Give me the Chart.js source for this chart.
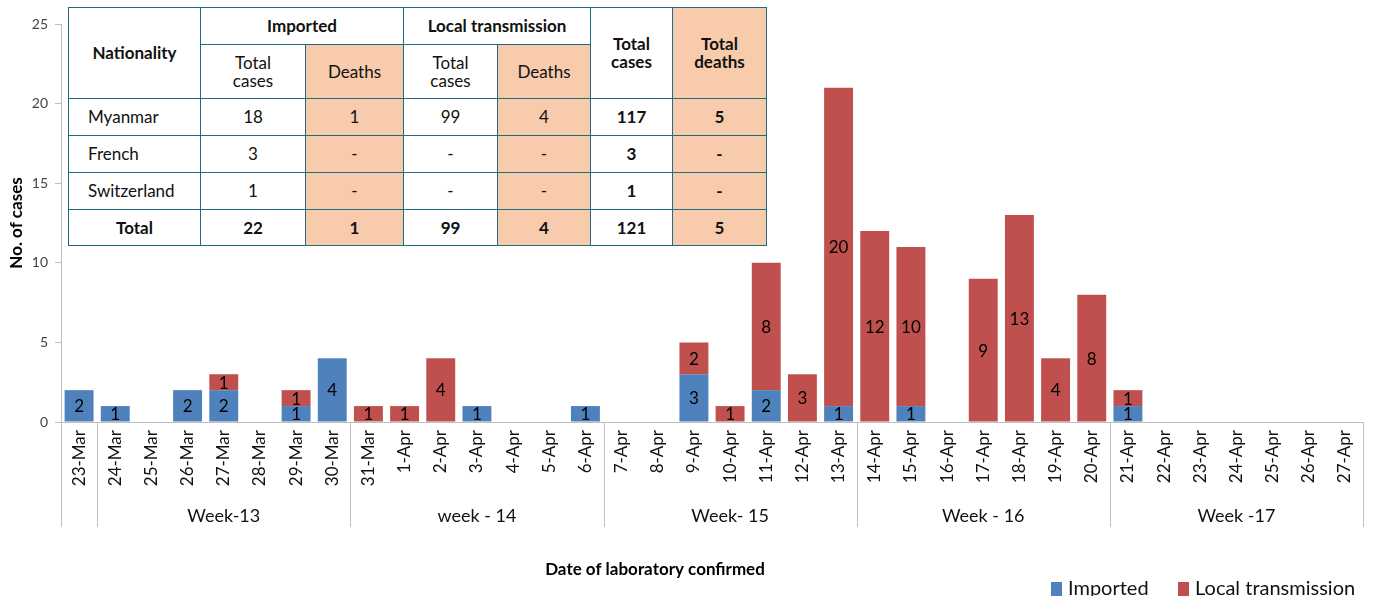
<!DOCTYPE html>
<html>
<head>
<meta charset="utf-8">
<script src="https://cdn.jsdelivr.net/npm/chart.js@4"></script>
<style>
  body { margin: 0; background: #fff; font-family: Lato, sans-serif; }
  #wrap { position: relative; width: 1375px; height: 596px; }
  #summary {
    position: absolute; left: 68px; top: 7px;
    border-collapse: collapse; table-layout: fixed;
    font-family: Lato, sans-serif; font-size: 17px; color: #111;
    background: #fff;
  }
  #summary td { border: 1.5px solid #1f6b80; text-align: center; padding: 0; line-height: 18px; }
  #summary .b { font-weight: bold; }
  #summary .p { background: #f8cbad; }
  #summary .l { text-align: left; padding-left: 19px; }
</style>
</head>
<body>
<div id="wrap">
  <canvas id="caseChart"></canvas>
  <table id="summary">
    <colgroup>
      <col style="width:132px"><col style="width:105px"><col style="width:98px">
      <col style="width:94px"><col style="width:93px"><col style="width:82px"><col style="width:94px">
    </colgroup>
    <tr style="height:37px">
      <td class="b" rowspan="2">Nationality</td>
      <td class="b" colspan="2">Imported</td>
      <td class="b" colspan="2">Local transmission</td>
      <td class="b" rowspan="2">Total<br>cases</td>
      <td class="b p" rowspan="2">Total<br>deaths</td>
    </tr>
    <tr style="height:54px">
      <td>Total<br>cases</td><td class="p">Deaths</td>
      <td>Total<br>cases</td><td class="p">Deaths</td>
    </tr>
    <tr style="height:37px">
      <td class="l">Myanmar</td><td>18</td><td class="p">1</td><td>99</td><td class="p">4</td><td class="b">117</td><td class="b p">5</td>
    </tr>
    <tr style="height:37px">
      <td class="l">French</td><td>3</td><td class="p">-</td><td>-</td><td class="p">-</td><td class="b">3</td><td class="b p">-</td>
    </tr>
    <tr style="height:37px">
      <td class="l">Switzerland</td><td>1</td><td class="p">-</td><td>-</td><td class="p">-</td><td class="b">1</td><td class="b p">-</td>
    </tr>
    <tr style="height:36px">
      <td class="b">Total</td><td class="b">22</td><td class="b p">1</td><td class="b">99</td><td class="b p">4</td><td class="b">121</td><td class="b p">5</td>
    </tr>
  </table>
</div>
<script>
const days = [
  "23-Mar", "24-Mar", "25-Mar", "26-Mar", "27-Mar", "28-Mar", "29-Mar", "30-Mar",
  "31-Mar", "1-Apr", "2-Apr", "3-Apr", "4-Apr", "5-Apr", "6-Apr",
  "7-Apr", "8-Apr", "9-Apr", "10-Apr", "11-Apr", "12-Apr", "13-Apr",
  "14-Apr", "15-Apr", "16-Apr", "17-Apr", "18-Apr", "19-Apr", "20-Apr",
  "21-Apr", "22-Apr", "23-Apr", "24-Apr", "25-Apr", "26-Apr", "27-Apr"
];
const imported = [2, 1, 0, 2, 2, 0, 1, 4, 0, 0, 0, 1, 0, 0, 1, 0, 0, 3, 0, 2, 0, 1, 0, 1, 0, 0, 0, 0, 0, 1, 0, 0, 0, 0, 0, 0];
const local = [0, 0, 0, 0, 1, 0, 1, 0, 1, 1, 4, 0, 0, 0, 0, 0, 0, 2, 1, 8, 3, 20, 12, 10, 0, 9, 13, 4, 8, 1, 0, 0, 0, 0, 0, 0];
const weekNames = ["Week-13", "week - 14", "Week- 15", "Week - 16", "Week -17"];
const weekStarts = [1, 8, 15, 22, 29, 36]; // index of first day of each week, last = end
const yTicks = [0, 5, 10, 15, 20, 25];

const grey = '#bfbfbf';

const extras = {
  id: 'extras',
  afterDatasetsDraw(chart) {
    const ctx = chart.ctx;
    ctx.save();
    ctx.font = '17px Lato';
    ctx.fillStyle = '#000';
    ctx.textAlign = 'center';
    ctx.textBaseline = 'middle';
    chart.data.datasets.forEach((ds, di) => {
      chart.getDatasetMeta(di).data.forEach((bar, i) => {
        if (!ds.data[i]) return;
        ctx.fillText(ds.data[i], bar.x, (bar.y + bar.base) / 2 + 1);
      });
    });
    ctx.restore();
  },
  afterDraw(chart) {
    const ctx = chart.ctx;
    const x = chart.scales.x;
    const area = chart.chartArea;
    const half = (x.getPixelForValue(1) - x.getPixelForValue(0)) / 2;
    const edge = i => i >= days.length ? area.right : x.getPixelForValue(i) - half;
    ctx.save();
    ctx.strokeStyle = grey;
    ctx.lineWidth = 1;
    [0].concat(weekStarts).forEach(i => {
      const px = Math.round(edge(i)) + 0.5;
      ctx.beginPath();
      ctx.moveTo(px, area.bottom);
      ctx.lineTo(px, 527);
      ctx.stroke();
    });
    ctx.font = '18px Lato';
    ctx.fillStyle = '#111';
    ctx.textAlign = 'center';
    ctx.textBaseline = 'middle';
    weekNames.forEach((w, k) => {
      ctx.fillText(w, (edge(weekStarts[k]) + edge(weekStarts[k + 1])) / 2, 516);
    });

    ctx.font = 'bold 17px Lato';
    ctx.fillStyle = '#000';
    ctx.fillText('Date of laboratory confirmed', 655, 570);

    // legend
    ctx.font = '20px Lato';
    ctx.textAlign = 'left';
    let lx = 1051;
    chart.data.datasets.forEach(ds => {
      ctx.fillStyle = ds.backgroundColor;
      ctx.fillRect(lx, 582, 11, 14);
      ctx.fillStyle = '#111';
      ctx.fillText(ds.label, lx + 17, 589);
      lx += 127;
    });
    ctx.restore();
  }
};

new Chart(document.getElementById('caseChart'), {
  type: 'bar',
  data: {
    labels: days,
    datasets: [
      { label: 'Imported', data: imported, backgroundColor: '#4f81bd' },
      { label: 'Local transmission', data: local, backgroundColor: '#c0504d' }
    ]
  },
  options: {
    responsive: true,
    maintainAspectRatio: false,
    animation: false,
    barPercentage: 0.8,
    categoryPercentage: 1,
    layout: { padding: { top: 24, right: 12, bottom: 69, left: 0 } },
    plugins: { legend: { display: false }, tooltip: { enabled: false } },
    scales: {
      x: {
        stacked: true,
        afterFit: s => { s.height = 105; },
        grid: { display: true, drawOnChartArea: false, drawTicks: false },
        border: { display: true, color: grey },
        ticks: {
          minRotation: 90, maxRotation: 90, autoSkip: false, padding: 8,
          color: '#111', font: { family: 'Lato', size: 17 }
        }
      },
      y: {
        stacked: true,
        min: 0, max: 25,
        afterFit: s => { s.width = 61; },
        afterBuildTicks: s => { s.ticks = yTicks.map(v => ({ value: v })); },
        grid: { display: true, drawOnChartArea: false, tickLength: 6, color: grey },
        border: { display: true, color: grey },
        ticks: { padding: 7, color: '#444', font: { family: 'Lato', size: 14 } },
        title: {
          display: true, text: 'No. of cases', color: '#000',
          font: { family: 'Lato', size: 17, weight: 'bold' },
          padding: { top: 6, bottom: 0 }
        }
      }
    }
  },
  plugins: [extras]
});
</script>
</body>
</html>
